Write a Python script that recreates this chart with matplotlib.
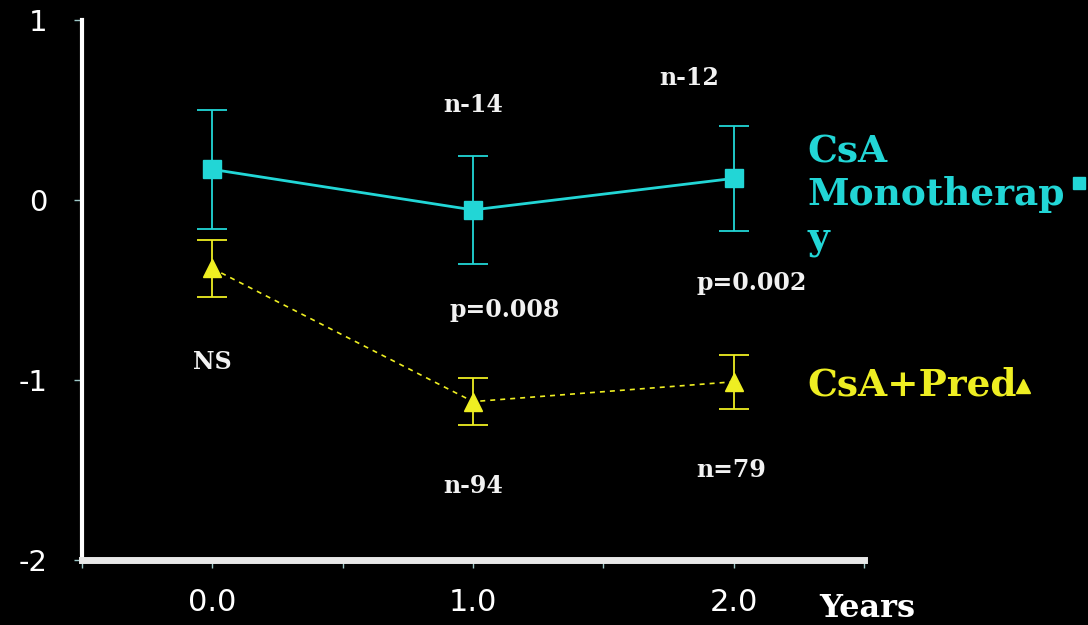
import numpy as np
import matplotlib.pyplot as plt

# data
years = [0.0, 1.0, 2.0]
mono_mean = [0.17, -0.055, 0.12]
mono_err = [0.33, 0.30, 0.29]
pred_mean = [-0.38, -1.12, -1.01]
pred_err = [0.16, 0.13, 0.15]

xtick_pos = [0.0, 1.0, 2.0]
xtick_lab = ["0.0", "1.0", "2.0"]
ytick_pos = [1, 0, -1, -2]
ytick_lab = ["1", "0", "-1", "-2"]

notes = ["n-14", "n-12", "p=0.008", "p=0.002", "NS", "n-94", "n=79"]
note_x = [1.0, 1.83, 1.12, 2.07, 0.0, 1.0, 1.99]
note_y = [0.53, 0.68, -0.61, -0.46, -0.90, -1.59, -1.50]

cyan = "#22d6d6"
yellow = "#eeee22"

fig = plt.figure(figsize=(10.88, 6.25), dpi=100, facecolor="black")
ax = fig.add_axes([0.0754, 0.104, 0.7186, 0.864])
ax.set_facecolor("black")

ax.errorbar(years, mono_mean, yerr=mono_err, color=cyan, marker="s", ms=13,
            lw=2, elinewidth=1.3, capsize=11, capthick=1.3, zorder=3)
ax.errorbar(years, pred_mean, yerr=pred_err, color=yellow, marker="^", ms=13,
            lw=1.2, ls=(0, (3, 3)), elinewidth=1.3, capsize=11, capthick=1.3, zorder=3)

ax.set_xlim(-0.5, 2.5)
ax.set_ylim(-2, 1)
ax.set_xticks(xtick_pos)
ax.set_xticklabels(xtick_lab)
ax.set_xticks([-0.5, 0.5, 1.5, 2.5], minor=True)
ax.set_yticks(ytick_pos)
ax.set_yticklabels(ytick_lab)

for s in ["top", "right"]:
    ax.spines[s].set_visible(False)
ax.spines["left"].set_color("white")
ax.spines["left"].set_linewidth(3)
ax.spines["bottom"].set_color("#e8e8e8")
ax.spines["bottom"].set_linewidth(5)
ax.tick_params(axis="both", which="both", colors="#9ec8c8", length=6, width=1)
ax.tick_params(axis="y", labelcolor="white", labelsize=21, pad=19)
ax.tick_params(axis="x", labelcolor="white", labelsize=22, pad=14)
for t in ax.get_xticklabels() + ax.get_yticklabels():
    t.set_family("DejaVu Sans")

for txt, x, y in zip(notes, note_x, note_y):
    ax.text(x, y, txt, color="#f2f2f2", fontsize=17, fontweight="bold",
            family="DejaVu Serif", ha="center", va="center")

ax.text(2.33, -2.27, "Years", color="white", fontsize=23, fontweight="bold",
        family="DejaVu Serif", ha="left", va="center", clip_on=False)

fig.text(0.742, 0.688, "CsA\nMonotherap\ny", color=cyan, fontsize=27,
         fontweight="bold", family="DejaVu Serif", ha="left", va="center",
         linespacing=1.2)
# legend swatches as markers in figure coords
ax.plot([0.992], [0.707], marker="s", ms=9, color=cyan, ls="none",
        transform=fig.transFigure, clip_on=False)
fig.text(0.742, 0.384, "CsA+Pred", color=yellow, fontsize=27,
         fontweight="bold", family="DejaVu Serif", ha="left", va="center")
ax.plot([0.94], [0.382], marker="^", ms=10, color=yellow, ls="none",
        transform=fig.transFigure, clip_on=False)

fig.savefig("out.png", dpi=100, facecolor="black")
